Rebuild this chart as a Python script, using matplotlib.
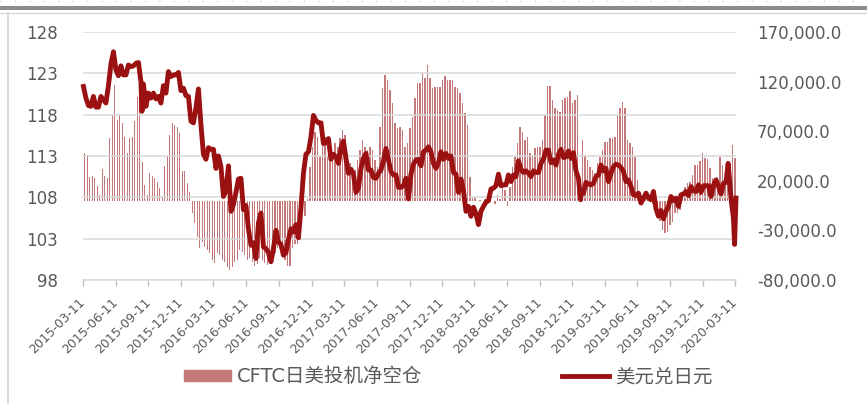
import numpy as np
import pandas as pd
import matplotlib
matplotlib.use('Agg')
import matplotlib.pyplot as plt
from matplotlib.lines import Line2D
from matplotlib.patches import Patch

plt.rcParams['font.family'] = ['DejaVu Sans', 'Noto Sans CJK SC']

# USD/JPY weekly closes (Fridays from 2015-03-13)
usdjpy_2015 = [121.4, 120.0, 119.1, 119.0, 120.2, 118.9, 118.9, 120.2, 119.8, 119.4, 121.5, 124.1,
               125.6, 123.4, 122.7, 123.9, 122.8, 122.8, 124.0, 123.8, 123.9, 124.2, 124.3, 122.0, 121.7,
               119.0, 120.6, 120.0, 120.6, 119.9, 120.2, 119.4, 121.5, 120.6, 123.2, 122.6, 122.8, 122.8,
               123.1, 120.9, 121.2, 120.3]
usdjpy_2016 = [120.2, 117.2, 117.0, 118.8, 121.1, 116.8, 113.2, 112.6, 114.0, 113.8, 113.8, 111.5, 113.0,
               111.7, 108.1, 108.8, 111.8, 106.3, 107.1, 108.6, 110.2, 110.3, 106.5, 107.0, 104.2, 102.2,
               102.5, 100.6, 104.9, 106.1, 102.0, 101.8, 101.3, 100.2, 101.8, 104.0, 102.6, 102.3, 101.0,
               101.3, 102.9, 104.2, 103.8, 104.7, 103.1, 106.7, 110.9, 113.2, 113.5, 115.3, 117.9, 117.3, 117.0]
usdjpy_2017 = [117.0, 114.5, 114.6, 115.1, 112.6, 113.2, 112.9, 112.1, 114.0, 114.8, 112.7, 110.9, 111.4,
               110.8, 108.6, 109.1, 111.5, 112.7, 113.3, 111.3, 111.3, 110.4, 110.3, 110.9, 111.3, 112.4,
               113.9, 112.5, 111.1, 110.7, 110.7, 109.2, 109.2, 109.4, 110.3, 107.8, 110.8, 112.0, 112.5,
               112.6, 111.8, 113.5, 113.7, 114.1, 113.5, 112.1, 111.5, 112.2, 113.5, 112.6, 113.3, 112.7]
usdjpy_2018 = [113.0, 111.0, 110.8, 108.6, 110.2, 108.8, 106.3, 106.9, 105.7, 106.8, 106.0, 104.7, 106.3,
               106.9, 107.4, 107.6, 109.0, 109.1, 109.4, 110.8, 109.4, 109.5, 109.5, 110.7, 109.9, 110.7,
               110.5, 112.4, 111.4, 111.0, 111.2, 110.9, 110.5, 111.2, 111.0, 111.0, 112.1, 112.6, 113.7,
               113.7, 112.2, 112.5, 111.9, 113.2, 113.8, 112.8, 112.9, 113.6, 112.7, 113.4, 111.2, 110.3]
usdjpy_2019 = [108.5, 108.5, 109.8, 109.6, 109.5, 109.7, 110.5, 110.7, 111.9, 111.2, 111.5, 109.9, 110.9,
               111.7, 112.0, 111.9, 111.6, 111.1, 109.9, 110.1, 109.3, 108.3, 108.2, 108.5, 107.3, 107.9,
               108.5, 107.9, 107.7, 108.7, 106.6, 105.7, 106.4, 105.4, 106.3, 106.9, 108.1, 107.6, 107.9,
               106.9, 108.3, 108.4, 108.7, 108.2, 109.3, 108.8, 108.7, 109.5, 108.6, 109.4, 109.4, 109.4]
usdjpy_2020 = [108.1, 109.5, 110.1, 109.3, 108.4, 109.7, 109.8, 111.6, 107.9, 105.4, 107.9]
# a few daily closes that stand out in the chart
extra_dates = ['2015-08-24', '2019-01-03', '2020-02-20', '2020-03-09']
extra_values = [118.4, 107.7, 112.1, 102.3]

# CFTC net short yen positions, weekly (Tuesdays from 2015-03-17)
cftc = [47700, 46000, 24100, 24800, 23100, 14700, 5600, 31500, 24800, 23100, 62800, 86300, 116500,
        81200, 87300, 78500, 64400, 47700, 62800, 64400, 80500, 104700, 103100, 39200, 15700, 5600,
        27500, 24800, 22500, 19100, 13000, 4000, 34900, 45000, 66100, 78500, 76200, 74500, 68400,
        30100, 30100, 18000, 9000,
        -12800, -22900, -36400, -48100, -41400, -46500, -49800, -53200, -59900, -63200, -53200,
        -54800, -59900, -61600, -66600, -70000, -66600, -61600, -59900, -49800, -51500,
        -55000, -60000, -58000, -62000, -66000, -64000, -58000, -60000, -63000, -65000, -53000,
        -57000, -53000, -48000, -43000, -52000, -60000, -66000, -66000, -48000, -44000, -44000,
        -40000, -10000, -16000,
        2000, 34200, 54300, 69500, 64400, 44300, 67800, 64400, 44300, 51000, 47700, 57800, 54300,
        62800, 71200, 66100, 47700, 37600, 27500, 30800, 40900, 51000, 61100, 54300, 51000, 54300,
        51000, 40900, 34200, 74500, 113200, 126600, 121600, 111500, 98100, 77900, 72900, 74500,
        71200, 54300, 57800, 72900, 84600, 103100, 118200, 118200, 128300, 123300, 136400, 123300,
        113200, 114800, 114800, 114200, 121600, 125600, 121600, 121600, 121600, 114800, 113200,
        108100, 98100, 88000, 76200, 24100, 3000,
        3000, 0, 1000, 0, 2000, 0, -1000, 0, -3000, 6000, 2000, 14000, 11000, -5000,
        14000, 34200, 44300, 57800, 74500, 69500, 61100, 64400, 47700, 46000, 52700, 54300, 54300,
        61100, 86300, 115500, 115500, 101400, 93000, 91300, 89600, 101400, 103100, 104700, 110600,
        98100, 101400, 106400,
        20800, 61100, 46000, 40900, 34200, 30800, 27500, 37600, 44300, 51000, 59500, 59500, 62800,
        62800, 64400, 86300, 93000, 99700, 93000, 61100, 57800, 54300, 44300, 20800, 7400,
        5000, 8000, 3000, 2000, -3000, -8000,
        -9500, -21000, -29600, -32300, -31300, -24600, -21200, -12200, -12200, -9500,
        5000,
        14000, 17400, 19100, 25800, 35900, 35900, 40200, 47700, 42600, 41600, 32600, 22500, 22500,
        23500, 44300, 35900, 17400, 23500, 25800, 56000, 42600]

usdjpy = usdjpy_2015 + usdjpy_2016 + usdjpy_2017 + usdjpy_2018 + usdjpy_2019 + usdjpy_2020
line = pd.Series(usdjpy, index=pd.date_range('2015-03-13', periods=len(usdjpy), freq='W-FRI'))
line = pd.concat([line, pd.Series(extra_values, index=pd.to_datetime(extra_dates))]).sort_index()
bar_dates = pd.date_range('2015-03-17', periods=len(cftc), freq='7D')

tick_dates = pd.date_range('2015-03-11', periods=21, freq=pd.DateOffset(months=3))

grey = '#595959'
fig = plt.figure(figsize=(8.67, 4.04), dpi=100)
ax = fig.add_axes([0.0954, 0.307, 0.7535, 0.614])
ax2 = ax.twinx()
ax.set_zorder(ax2.get_zorder() + 1)
ax.patch.set_visible(False)

ax2.bar(bar_dates, cftc, width=3.5, color='#c47a7a', linewidth=0)
ax.plot(line.index, line.values, color='#9b1010', lw=3.5, solid_joinstyle='round', clip_on=False)

ax.set_xlim(pd.Timestamp('2015-03-11'), pd.Timestamp('2020-03-13'))
ax.set_ylim(98, 128)
ax.set_yticks(np.arange(98, 129, 5))
ax2.set_ylim(-80000, 170000)
ax2.set_yticks(np.arange(-80000, 170001, 50000))
ax2.set_yticklabels(['{:,.1f}'.format(v) for v in np.arange(-80000, 170001, 50000)])

ax.grid(axis='y', color='#d9d9d9', lw=1.1)
ax.set_xticks(tick_dates)
ax.set_xticklabels([d.strftime('%Y-%m-%d') for d in tick_dates], rotation=45,
                   ha='right', va='center', rotation_mode='anchor')
for a in (ax, ax2):
    for s in a.spines.values():
        s.set_visible(False)
ax.spines['bottom'].set_visible(True)
ax.spines['bottom'].set_color('#d9d9d9')
ax.spines['bottom'].set_linewidth(1.1)

ax.tick_params(axis='x', colors='#bfbfbf', length=4, width=1, labelcolor=grey, labelsize=9, pad=11)
ax.tick_params(axis='y', length=0, labelcolor=grey, labelsize=12, pad=18)
ax2.tick_params(axis='y', length=0, labelcolor=grey, labelsize=12, pad=15)

handles = [Patch(color='#c47a7a'), Line2D([], [], color='#9b1010', lw=3.5)]
fig.legend(handles, ['CFTC日美投机净空仓', '美元兑日元'], loc='center', bbox_to_anchor=(0.517, 0.067),
           ncol=2, frameon=False, handlelength=2.4, handleheight=0.45, handletextpad=0.3,
           columnspacing=7.2, fontsize=14, labelcolor=grey)

# frame bits from the screenshot
fig.add_artist(Line2D([0, 1], [0.9975, 0.9975], transform=fig.transFigure, color='#bfbfbf',
                      lw=0.8, ls=(0, (1, 12))))
fig.add_artist(Line2D([0, 1], [0.980, 0.980], transform=fig.transFigure, color='#8c8c8c', lw=2.9))
fig.add_artist(Line2D([0, 1], [0.968, 0.968], transform=fig.transFigure, color='#d9d9d9', lw=1))
fig.add_artist(Line2D([0.0092, 0.0092], [0, 0.968], transform=fig.transFigure, color='#d9d9d9', lw=1.5))

fig.savefig('out.png', dpi=100)
